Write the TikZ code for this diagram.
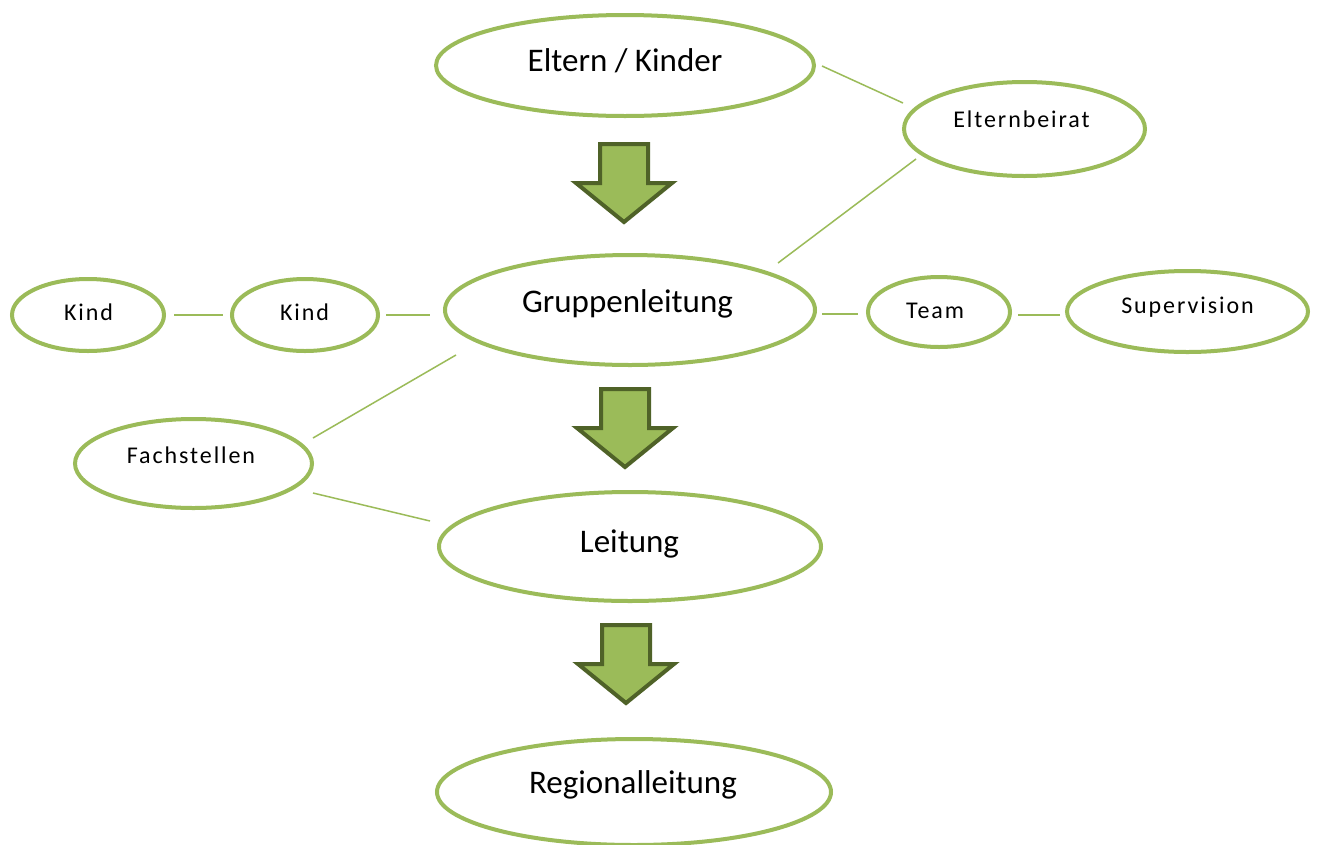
\documentclass[tikz,border=0pt]{standalone}
\usepackage{fontspec}
\setmainfont{Carlito}
\newfontfamily\spacedfont[LetterSpace=8]{Carlito}
\usetikzlibrary{calc,shapes.geometric}
\definecolor{ogreen}{HTML}{9BBB59}
\definecolor{odark}{HTML}{4F6228}
\tikzset{
  ell/.style={ellipse, draw=ogreen, line width=4pt, fill=white, inner sep=0pt},
  bigtxt/.style={anchor=base, inner sep=0pt, font=\fontsize{33}{36}\selectfont},
  smalltxt/.style={anchor=base, inner sep=0pt, font=\spacedfont\fontsize{24}{28}\selectfont},
  conn/.style={draw=ogreen, line width=1.5pt},
  arrowshape/.style={draw=odark, fill=ogreen, line width=4pt, miter limit=10},
  blockarrow/.pic={
    \path[arrowshape] (-24,0) -- (24,0) -- (24,39) -- (48,39) -- (0,78) -- (-48,39) -- (-24,39) -- cycle;
  }
}
\begin{document}
\begin{tikzpicture}[x=1pt,y=-1pt]
\useasboundingbox[fill=white] (0,0) rectangle (1318,844);

% ellipses
\node[ell, minimum width=378pt, minimum height=101pt] (el) at (625,65.5) {};
\node[ell, minimum width=241pt, minimum height=94pt] (eb) at (1024.5,129) {};
\node[ell, minimum width=370pt, minimum height=110pt] (gl) at (630,310) {};
\node[ell, minimum width=152pt, minimum height=72pt] (k1) at (88,315) {};
\node[ell, minimum width=146pt, minimum height=72pt] (k2) at (305,315) {};
\node[ell, minimum width=142pt, minimum height=70pt] (tm) at (939,312) {};
\node[ell, minimum width=241pt, minimum height=81pt] (sv) at (1187.5,311.5) {};
\node[ell, minimum width=237pt, minimum height=89pt] (fs) at (193.5,463.5) {};
\node[ell, minimum width=382pt, minimum height=109pt] (lt) at (630,546.5) {};
\node[ell, minimum width=394pt, minimum height=106pt] (rl) at (634,792) {};

% texts
\node[bigtxt] (elt) at (625,71) {Eltern / Kinder};
\node[smalltxt] (ebt) at (1021.5,127) {Elternbeirat};
\node[bigtxt] (glt) at (627.5,312) {Gruppenleitung};
\node[smalltxt] (k1t) at (88.5,320) {Kind};
\node[smalltxt] (k2t) at (304.5,320) {Kind};
\node[smalltxt] (tmt) at (935,318) {Team};
\node[smalltxt] (svt) at (1187.5,313) {Supervision};
\node[smalltxt] (fst) at (191,463) {Fachstellen};
\node[bigtxt] (ltt) at (629.5,552) {Leitung};
\node[bigtxt] (rlt) at (633,793) {Regionalleitung};

% connectors
\draw[conn] ($(el)+(197,0.5)$) -- ($(eb)+(-121.5,-26)$);
\draw[conn] ($(eb)+(-108.5,30)$) -- ($(gl)+(148,-47)$);
\draw[conn] ($(k1)+(86,0)$) -- ($(k2)+(-82,0)$);
\draw[conn] ($(k2)+(81,0)$) -- ($(gl)+(-200,5)$);
\draw[conn] ($(gl)+(192,4)$) -- ($(tm)+(-81,2)$);
\draw[conn] ($(tm)+(79,3)$) -- ($(sv)+(-127.5,3.5)$);
\draw[conn] ($(gl)+(-174,45)$) -- ($(fs)+(119.5,-25.5)$);
\draw[conn] ($(fs)+(119.5,29.5)$) -- ($(lt)+(-200,-25.5)$);

% block arrows
\pic at (624,144) {blockarrow};
\pic at (625,389) {blockarrow};
\pic at (626,625) {blockarrow};
\end{tikzpicture}
\end{document}
